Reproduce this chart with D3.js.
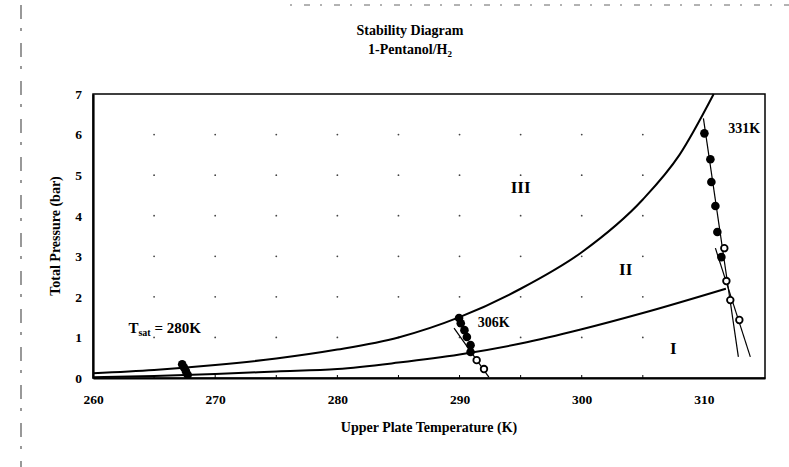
<!DOCTYPE html>
<html>
<head>
<meta charset="utf-8">
<script src="https://cdn.jsdelivr.net/npm/d3@7"></script>
<style>
  body { margin: 0; background: #fff; }
  svg { font-family: 'Liberation Serif', 'DejaVu Serif', serif; }
</style>
</head>
<body>
<svg id="chart" width="789" height="467"></svg>
<script>
// Boundary curves (upper plate temperature K, total pressure bar)
const curveIIIT = [260, 265, 270, 275, 280, 285, 290, 295, 300, 305, 308, 310.8];
const curveIIIP = [0.12, 0.2, 0.32, 0.48, 0.7, 1.0, 1.5, 2.2, 3.1, 4.4, 5.5, 7.0];
const curveIIT = [260, 265, 270, 275, 280, 285, 290, 295, 300, 305, 311.8];
const curveIIP = [0.02, 0.05, 0.1, 0.16, 0.22, 0.38, 0.58, 0.85, 1.2, 1.6, 2.2];

// Isotherm measurements: filled = stable, open = unstable
const t280FilledT = [267.3, 267.45, 267.6, 267.75];
const t280FilledP = [0.34, 0.26, 0.17, 0.08];
const t280LineT = [267.1, 268.0];
const t280LineP = [0.4, 0.0];

const t306FilledT = [289.96, 290.1, 290.4, 290.6, 290.9, 290.9];
const t306FilledP = [1.48, 1.35, 1.18, 1.01, 0.81, 0.64];
const t306OpenT = [291.4, 292.0];
const t306OpenP = [0.44, 0.22];
const t306LineT = [289.55, 292.4];
const t306LineP = [1.23, 0.02];

const t331FilledT = [310.04, 310.53, 310.61, 310.94, 311.1, 311.43];
const t331FilledP = [6.03, 5.39, 4.83, 4.24, 3.6, 2.98];
const t331OpenT = [311.67, 311.84, 312.16, 312.9];
const t331OpenP = [3.2, 2.39, 1.92, 1.43];
const t331LineAT = [309.96, 312.82];
const t331LineAP = [6.4, 0.52];
const t331LineBT = [310.94, 313.8];
const t331LineBP = [3.2, 0.52];

const xTicks = [260, 270, 280, 290, 300, 310];
const yTicks = [0, 1, 2, 3, 4, 5, 6, 7];
const gridT = [265, 270, 275, 280, 285, 290, 295, 300, 305];
const gridP = [1, 2, 3, 4, 5, 6];

const zip = (a, b) => a.map((v, i) => [v, b[i]]);

const svg = d3.select('#chart');
const marginLeft = 93, marginRight = 24, marginTop = 94, marginBottom = 89;
const width = 789, height = 467;

const x = d3.scaleLinear([260, 315], [marginLeft, width - marginRight]);
const y = d3.scaleLinear([0, 7], [height - marginBottom, marginTop]);

// scan edge artefacts
svg.append('line')
  .attr('x1', 21).attr('x2', 21).attr('y1', 5).attr('y2', 467)
  .attr('stroke', '#555').attr('stroke-width', 1.2)
  .attr('stroke-dasharray', '14,9,3,12');
svg.append('line')
  .attr('x1', 290).attr('x2', 789).attr('y1', 5).attr('y2', 5)
  .attr('stroke', '#666').attr('stroke-width', 1)
  .attr('stroke-dasharray', '2,12,6,10');

// dot grid
svg.append('g')
  .selectAll('circle')
  .data(d3.cross(gridT, gridP))
  .join('circle')
  .attr('cx', (d) => x(d[0]))
  .attr('cy', (d) => y(d[1]))
  .attr('r', 0.9)
  .attr('fill', '#444');

// plot frame
svg.append('rect')
  .attr('x', x(260)).attr('y', y(7))
  .attr('width', x(315) - x(260)).attr('height', y(0) - y(7))
  .attr('fill', 'none').attr('stroke', '#000').attr('stroke-width', 1.5);

// axes
svg.append('g')
  .attr('transform', `translate(0,${y(0)})`)
  .call(d3.axisBottom(x).tickValues(xTicks).tickSize(0).tickPadding(16).tickFormat(d3.format('d')))
  .attr('font-family', null).attr('font-size', null)
  .style('font-size', '13.5px').style('font-weight', 'bold')
  .call((g) => g.select('.domain').attr('stroke-width', 2.2));
svg.append('g')
  .attr('transform', `translate(0,${y(0)})`)
  .selectAll('line')
  .data(gridT)
  .join('line')
  .attr('x1', (d) => x(d)).attr('x2', (d) => x(d))
  .attr('y1', 0).attr('y2', -3)
  .attr('stroke', '#000');

svg.append('g')
  .attr('transform', `translate(${x(260)},0)`)
  .call(d3.axisLeft(y).tickValues(yTicks).tickSize(0).tickPadding(11).tickFormat(d3.format('d')))
  .attr('font-family', null).attr('font-size', null)
  .style('font-size', '13.5px').style('font-weight', 'bold')
  .call((g) => g.select('.domain').attr('stroke-width', 2.2));

// titles
const title = svg.append('g').attr('text-anchor', 'middle')
  .style('font-size', '14px').style('font-weight', 'bold');
title.append('text').attr('x', 410).attr('y', 35).text('Stability Diagram');
const sub = title.append('text').attr('x', 410).attr('y', 54);
sub.append('tspan').text('1-Pentanol/H');
sub.append('tspan').attr('dy', 3).style('font-size', '9px').text('2');

svg.append('text')
  .attr('x', x(287.5)).attr('y', 432)
  .attr('text-anchor', 'middle')
  .style('font-size', '14px').style('font-weight', 'bold')
  .text('Upper Plate Temperature (K)');
svg.append('text')
  .attr('transform', `translate(60,${y(3.5)}) rotate(-90)`)
  .attr('text-anchor', 'middle')
  .style('font-size', '14px').style('font-weight', 'bold')
  .text('Total Pressure (bar)');

// boundary curves
const line = d3.line()
  .x((d) => x(d[0]))
  .y((d) => y(d[1]))
  .curve(d3.curveMonotoneX);
const straight = d3.line().x((d) => x(d[0])).y((d) => y(d[1]));

svg.append('path')
  .attr('d', line(zip(curveIIIT, curveIIIP)))
  .attr('fill', 'none').attr('stroke', '#000').attr('stroke-width', 2);
svg.append('path')
  .attr('d', line(zip(curveIIT, curveIIP)))
  .attr('fill', 'none').attr('stroke', '#000').attr('stroke-width', 2);

// tie lines
[
  [t280LineT, t280LineP],
  [t306LineT, t306LineP],
  [t331LineAT, t331LineAP],
  [t331LineBT, t331LineBP],
].forEach(([ts, ps]) => {
  svg.append('path')
    .attr('d', straight(zip(ts, ps)))
    .attr('fill', 'none').attr('stroke', '#000').attr('stroke-width', 1.2);
});

// measurement points
const filled = [
  ...zip(t280FilledT, t280FilledP),
  ...zip(t306FilledT, t306FilledP),
  ...zip(t331FilledT, t331FilledP),
];
const open = [...zip(t306OpenT, t306OpenP), ...zip(t331OpenT, t331OpenP)];

svg.append('g')
  .selectAll('circle')
  .data(filled)
  .join('circle')
  .attr('cx', (d) => x(d[0])).attr('cy', (d) => y(d[1]))
  .attr('r', 4.3).attr('fill', '#000');
svg.append('g')
  .selectAll('circle')
  .data(open)
  .join('circle')
  .attr('cx', (d) => x(d[0])).attr('cy', (d) => y(d[1]))
  .attr('r', 3.3).attr('fill', '#fff')
  .attr('stroke', '#000').attr('stroke-width', 1.8);

// region and isotherm labels
const labels = svg.append('g').style('font-weight', 'bold');
labels.append('text').attr('x', x(295.0)).attr('y', y(4.55))
  .attr('text-anchor', 'middle').style('font-size', '17px').text('III');
labels.append('text').attr('x', x(303.6)).attr('y', y(2.55))
  .attr('text-anchor', 'middle').style('font-size', '17px').text('II');
labels.append('text').attr('x', x(307.5)).attr('y', y(0.6))
  .attr('text-anchor', 'middle').style('font-size', '17px').text('I');
labels.append('text').attr('x', x(291.5)).attr('y', y(1.25))
  .style('font-size', '14px').text('306K');
labels.append('text').attr('x', x(312.0)).attr('y', y(6.05))
  .style('font-size', '14px').text('331K');
const tsat = labels.append('text').attr('x', x(262.9)).attr('y', y(1.1))
  .style('font-size', '15px');
tsat.append('tspan').text('T');
tsat.append('tspan').attr('dy', 3).style('font-size', '10px').text('sat');
tsat.append('tspan').attr('dy', -3).text(' = 280K');
</script>
</body>
</html>
